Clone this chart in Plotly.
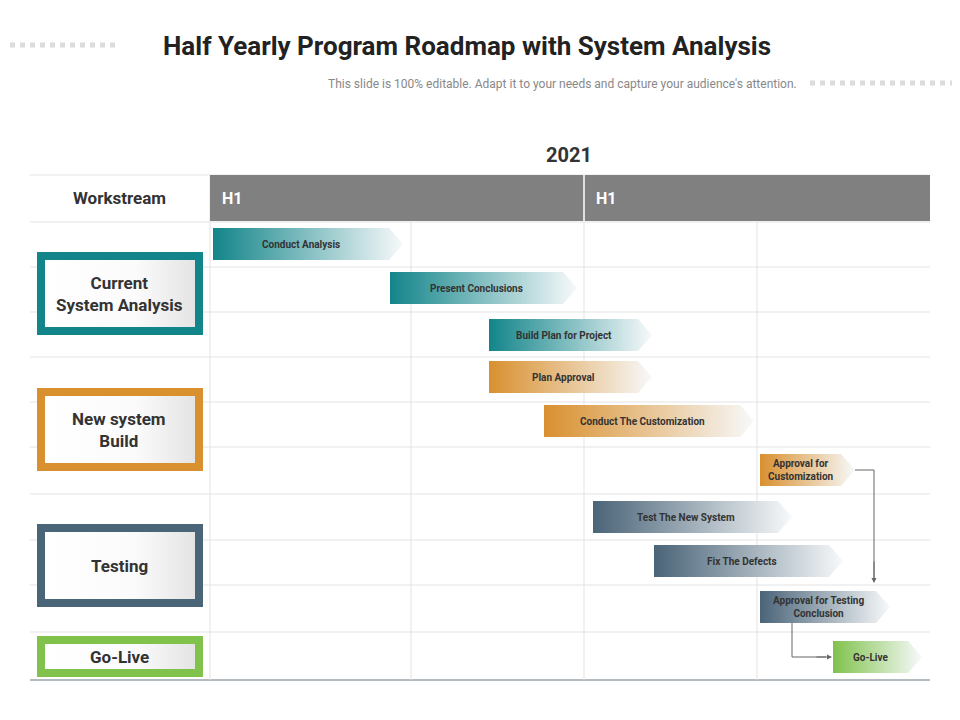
import plotly.graph_objects as go

# ---- data ----
title = "Half Yearly Program Roadmap with System Analysis"
subtitle = "This slide is 100% editable. Adapt it to your needs and capture your audience's attention."
year_label = "2021"
period_labels = ["H1", "H1"]
period_bounds = [210, 584, 930]          # timeline scale units
column_lines = [210, 411, 584, 757, 930]
row_lines = [222, 267, 312, 357, 402, 447, 494, 540, 585, 632, 680]

task_names = ["Conduct Analysis", "Present Conclusions", "Build Plan for Project", "Plan Approval",
              "Conduct The Customization", "Approval for<br>Customization", "Test The New System",
              "Fix The Defects", "Approval for Testing<br>Conclusion", "Go-Live"]
task_start = [213, 390, 489, 489, 544, 760, 593, 654, 760, 833]
task_end = [403, 577, 652, 652, 754, 855, 792, 843, 890, 922]
task_row = [244, 288, 335, 377, 421, 470, 517, 561, 607, 657]
task_group = [0, 0, 0, 1, 1, 1, 2, 2, 2, 3]

group_names = ["Current<br>System Analysis", "New system<br>Build", "Testing", "Go-Live"]
group_top = [252, 388, 524, 636]
group_bottom = [335, 471, 607, 677]
group_colors = ["#12858a", "#d9902f", "#4a6478", "#80c24c"]

FONT = "Liberation Sans Narrow, Roboto, Arial"
fig = go.Figure()
shapes, ann = [], []

# grid
for y in row_lines[:-1]:
    shapes.append(dict(type="line", x0=30, x1=930, y0=y, y1=y, line=dict(color="#e3e3e3", width=1)))
shapes.append(dict(type="line", x0=30, x1=930, y0=175, y1=175, line=dict(color="#e3e3e3", width=1)))
shapes.append(dict(type="line", x0=30, x1=930, y0=row_lines[-1], y1=row_lines[-1], line=dict(color="#9aa5ad", width=1.5)))
for i, x in enumerate(column_lines[:-1]):
    shapes.append(dict(type="line", x0=x, x1=x, y0=175 if i == 0 else 222, y1=680, line=dict(color="#e3e3e3", width=1)))

# header band
shapes.append(dict(type="rect", x0=period_bounds[0], x1=period_bounds[-1], y0=175, y1=221,
                   fillcolor="#808080", line=dict(width=0)))
shapes.append(dict(type="line", x0=period_bounds[1], x1=period_bounds[1], y0=175, y1=221, line=dict(color="white", width=1.5)))
for i, lab in enumerate(period_labels):
    ann.append(dict(x=period_bounds[i] + 10, y=198, text=f"<b>{lab}</b>", showarrow=False, xanchor="left",
                    font=dict(size=16, color="white", family=FONT)))
ann.append(dict(x=119, y=198, text="<b>Workstream</b>", showarrow=False, font=dict(size=17, color="#333", family=FONT)))
ann.append(dict(x=569, y=155, text=f"<b>{year_label}</b>", showarrow=False, font=dict(size=20, color="#333", family=FONT)))

# title
ann.append(dict(x=467, y=46, text=f"<b>{title}</b>", showarrow=False, font=dict(size=26, color="#222", family=FONT)))
ann.append(dict(x=562, y=84, text=subtitle, showarrow=False, font=dict(size=12, color="#888", family=FONT)))
shapes.append(dict(type="line", x0=0, x1=118, y0=45, y1=45, line=dict(color="#dcdcdc", width=5, dash="dot")))
shapes.append(dict(type="line", x0=810, x1=960, y0=83, y1=83, line=dict(color="#dcdcdc", width=5, dash="dot")))

# group boxes
for n, t, b, c in zip(group_names, group_top, group_bottom, group_colors):
    shapes.append(dict(type="rect", x0=37, x1=203, y0=t, y1=b, fillcolor=c, line=dict(width=0)))
    fig.add_trace(go.Scatter(x=[45, 195, 195, 45, 45], y=[t + 8, t + 8, b - 8, b - 8, t + 8], mode="lines",
                             fill="toself", line=dict(width=0), hoverinfo="skip", showlegend=False,
                             fillgradient=dict(type="horizontal",
                                               colorscale=[[0, "#ffffff"], [0.6, "#fbfbfb"], [1, "#e4e4e4"]])))
    ann.append(dict(x=119, y=(t + b) / 2, text=f"<b>{n}</b>", showarrow=False,
                    font=dict(size=17, color="#333", family=FONT)))

# task chevrons
h = 16
for n, s, e, r, g in zip(task_names, task_start, task_end, task_row, task_group):
    tip = 14
    xs = [s, e - tip, e, e - tip, s, s]
    ys = [r - h, r - h, r, r + h, r + h, r - h]
    fig.add_trace(go.Scatter(x=xs, y=ys, mode="lines", fill="toself", line=dict(width=0),
                             hoverinfo="skip", showlegend=False,
                             fillgradient=dict(type="horizontal",
                                               colorscale=[[0, group_colors[g]], [1, "#f7f9fa"]])))
    ann.append(dict(x=(s + e - tip) / 2, y=r, text=f"<b>{n}</b>", showarrow=False,
                    font=dict(size=10, color="#333", family=FONT)))

# connectors
shapes.append(dict(type="path", path="M 855 470 L 874 470 L 874 578", line=dict(color="#666", width=1)))
ann.append(dict(x=874, y=583, ax=874, ay=560, xref="x", yref="y", axref="x", ayref="y", text="",
                showarrow=True, arrowhead=2, arrowsize=1, arrowwidth=1, arrowcolor="#666"))
shapes.append(dict(type="path", path="M 792 623 L 792 657 L 826 657", line=dict(color="#666", width=1)))
ann.append(dict(x=832, y=657, ax=815, ay=657, xref="x", yref="y", axref="x", ayref="y", text="",
                showarrow=True, arrowhead=2, arrowsize=1, arrowwidth=1, arrowcolor="#666"))

# page has an 8px body margin; offset view window to compensate
fig.update_layout(width=960, height=720, margin=dict(l=0, r=0, t=0, b=0),
                  plot_bgcolor="white", paper_bgcolor="white", shapes=shapes, annotations=ann,
                  xaxis=dict(range=[8, 968], visible=False, fixedrange=True),
                  yaxis=dict(range=[728, 8], visible=False, fixedrange=True))
for s in fig.layout.shapes:
    s.layer = "below"
fig.write_html("out.html")
